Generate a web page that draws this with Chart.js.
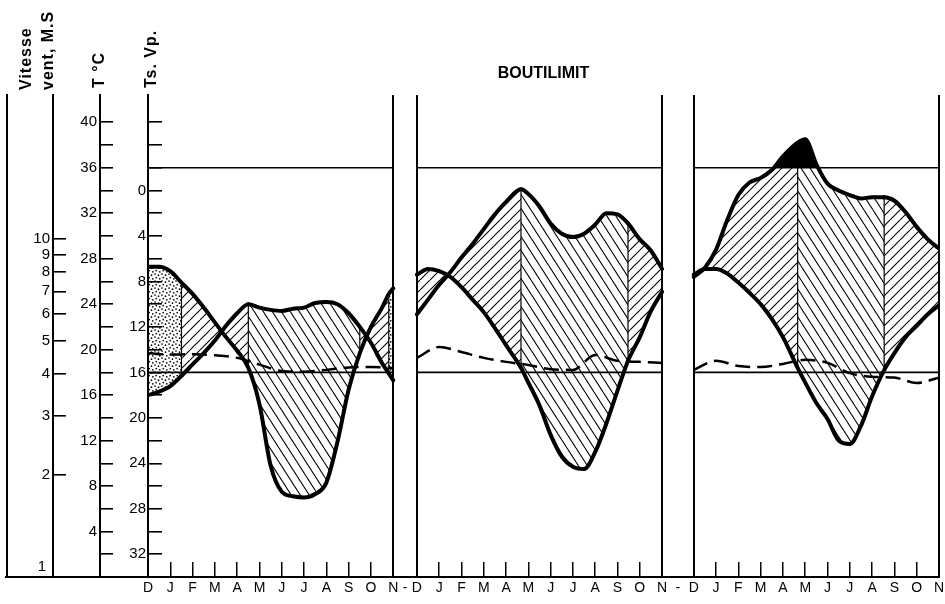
<!DOCTYPE html>
<html>
<head>
<meta charset="utf-8">
<script src="https://cdn.jsdelivr.net/npm/chart.js@4.4.0/dist/chart.umd.min.js"></script>
<style>
html,body{margin:0;padding:0;background:#fff;}
#wrap{width:945px;height:604px;}
</style>
</head>
<body>
<div id="wrap"><canvas id="c" width="945" height="604"></canvas></div>
<script>
// ---------------- DATA ----------------
const stationName = 'BOUTILIMIT';
const monthLabels = ['D','J','F','M','A','M','J','J','A','S','O','N'];
const gapLabel = '-';
const windMonths = [0,1,2,3,4,5,6,7,8,9,10,11];

// Panel 1
const p1Months = [0,0.5,1,1.5,2,2.5,3,3.5,4,4.5,5,5.5,6,6.5,7,7.5,8,8.5,9,9.5,10,10.5,10.8,11];
const p1Temp   = [16.0,16.3,16.8,17.7,18.7,19.7,20.8,22.1,23.2,24.0,23.7,23.5,23.4,23.6,23.7,24.1,24.2,24.0,23.2,22.0,20.6,18.8,17.9,17.3];
const p1Vp     = [6.7,6.7,7.1,8.1,9.1,10.3,11.6,12.9,14.1,15.6,18.8,24.2,26.5,26.9,27.0,26.7,25.7,22.1,17.5,14.3,12.0,10.3,9.1,8.6];
const p1Wind   = [4.60,4.55,4.56,4.53,4.45,4.25,4.07,4.05,4.10,4.17,4.18,4.15];

// Panel 2
const p2Months = [0,0.5,1,1.5,2,2.5,3,3.5,4,4.67,5,5.5,6,6.5,7,7.5,8,8.5,9,9.47,10,10.5,11];
const p2Temp   = [23.1,24.4,25.7,26.8,28.1,29.3,30.6,31.9,33.0,34.1,33.7,32.6,31.1,30.2,29.9,30.2,31.0,32.0,31.9,31.1,29.7,28.7,27.1];
const p2Vp     = [7.4,6.9,7.1,7.6,8.5,9.6,10.7,12.1,13.6,15.6,16.9,18.9,21.5,23.4,24.3,24.5,23.0,20.5,17.6,15.0,12.9,10.6,8.9];
const p2Wind   = [4.45,4.79,4.63,4.45,4.33,4.24,4.12,4.10,4.54,4.36,4.33,4.30];

// Panel 3
const p3Months = [0,0.5,1,1.5,2,2.5,3,3.5,4,4.66,5,5.5,6,6.5,7,7.5,8,8.54,9,9.5,10,10.5,11];
const p3Temp   = [26.4,27.2,28.8,31.4,33.6,34.7,35.1,35.8,37.0,38.2,38.5,36.3,34.6,34.0,33.6,33.3,33.4,33.4,33.1,32.1,30.8,29.7,28.9];
const p3Vp     = [7.4,6.9,6.9,7.3,8.1,9.0,10.0,11.3,12.9,15.6,16.9,18.7,20.1,22.0,22.3,20.7,18.1,15.8,14.3,12.9,11.9,10.9,10.1];
const p3Wind   = [4.10,4.36,4.21,4.18,4.27,4.39,4.30,4.01,3.91,3.89,3.75,3.89];

// reference levels
const refTemp = 36;
const refVp = 16;

// tick values / labels
const tTickValues  = [2,4,6,8,10,12,14,16,18,20,22,24,26,28,30,32,34,36,38,40];
const tLabelValues = [4,8,12,16,20,24,28,32,36,40];
const vpTickValues  = [-6,-4,-2,0,2,4,6,8,10,12,14,16,18,20,22,24,26,28,30,32];
const vpLabelValues = [0,4,8,12,16,20,24,28,32];
const windTickValues = [2,3,4,5,6,7,8,9,10];
const windBottomLabel = '1';

// ---------------- STYLE / LAYOUT CONFIG ----------------
const panelOffsets = [0, 12.06, 24.48];
const xMax = 35.48;
const tMax = 42.4;
const vpOffset = 34;          // Ts scale = 34 - T
const windMax = 26.67;
const FONT = 'Liberation Sans';

// fill zones per panel: [end month, pattern]
const p1Zones = [[1.5,'dots'],[4.5,'/'],[9.5,'\\'],[10.8,'/'],[11,'dots']];
const p2Zones = [[4.67,'/'],[9.47,'\\'],[11,'/']];
const p3Zones = [[4.66,'/'],[8.54,'\\'],[11,'/']];

function makeHatch(dir, w, h, lw) {
  const c = document.createElement('canvas'); c.width = w; c.height = h;
  const g = c.getContext('2d'); g.strokeStyle = '#000'; g.lineWidth = lw;
  g.beginPath();
  for (let k = -1; k <= 1; k++) {
    if (dir === '/') { g.moveTo(k*w, h); g.lineTo(k*w + w, 0); }
    else { g.moveTo(k*w, 0); g.lineTo(k*w + w, h); }
  }
  g.stroke();
  return g.createPattern(c, 'repeat');
}
function makeDots() {
  const c = document.createElement('canvas'); c.width = 7; c.height = 7;
  const g = c.getContext('2d'); g.fillStyle = '#000';
  [[1,1],[4.5,2.2],[2.2,4.6],[5.8,5.8]].forEach(([x,y]) => { g.beginPath(); g.arc(x, y, 0.85, 0, Math.PI*2); g.fill(); });
  return g.createPattern(c, 'repeat');
}
const patterns = { '/': makeHatch('/', 10, 10, 1.1), '\\': makeHatch('\\', 9, 14, 1.1), 'dots': makeDots() };

function zoneOf(zones, m) {
  for (const [end, key] of zones) if (m < end - 1e-6) return key;
  return zones[zones.length - 1][1];
}

const panels = [
  { months: p1Months, temp: p1Temp, vp: p1Vp, wind: p1Wind, zones: p1Zones, black: false },
  { months: p2Months, temp: p2Temp, vp: p2Vp, wind: p2Wind, zones: p2Zones, black: false },
  { months: p3Months, temp: p3Temp, vp: p3Vp, wind: p3Wind, zones: p3Zones, black: true }
];

const datasets = [];
const panelMeta = [];
panels.forEach((p, pi) => {
  const off = panelOffsets[pi];
  const tPts = p.months.map((m, i) => ({ x: off + m, y: p.temp[i] }));
  const vPts = p.months.map((m, i) => ({ x: off + m, y: p.vp[i] }));
  const wPts = windMonths.map((m, i) => ({ x: off + m, y: p.wind[i] }));
  const common = { pointRadius: 0, pointHoverRadius: 0, cubicInterpolationMode: 'monotone' };
  if (p.black) {
    datasets.push(Object.assign({}, common, {
      data: tPts, yAxisID: 'y', borderColor: 'rgba(0,0,0,0)', borderWidth: 1,
      backgroundColor: '#000',
      fill: { target: { value: refTemp }, above: '#000', below: 'rgba(0,0,0,0)' }
    }));
  }
  const tIdx = datasets.length;
  datasets.push(Object.assign({}, common, {
    data: tPts, yAxisID: 'y', borderColor: '#000', borderWidth: 4, borderJoinStyle: 'round', borderCapStyle: 'round',
    backgroundColor: 'rgba(0,0,0,0)',
    fill: { target: '+1' },
    segment: { backgroundColor: (ctx) => patterns[zoneOf(p.zones, p.months[ctx.p0DataIndex])] }
  }));
  datasets.push(Object.assign({}, common, {
    data: vPts, yAxisID: 'yTs', borderColor: '#000', borderWidth: 4, borderJoinStyle: 'round', borderCapStyle: 'round', fill: false
  }));
  datasets.push(Object.assign({}, common, {
    data: wPts, yAxisID: 'yW', borderColor: '#000', borderWidth: 2.5, borderDash: [15, 7], fill: false
  }));
  datasets.push({ data: [{ x: off, y: refTemp }, { x: off + 11, y: refTemp }], yAxisID: 'y', borderColor: '#000', borderWidth: 1.6, pointRadius: 0, fill: false, tension: 0 });
  datasets.push({ data: [{ x: off, y: refVp }, { x: off + 11, y: refVp }], yAxisID: 'yTs', borderColor: '#000', borderWidth: 1.6, pointRadius: 0, fill: false, tension: 0 });
  panelMeta.push({ tIdx: tIdx, months: p.months, zones: p.zones });
});

// x ticks
const xTickValues = [], xTickLabels = [], xTickKinds = [];
panelOffsets.forEach((off, pi) => {
  monthLabels.forEach((lab, k) => {
    xTickValues.push(off + k); xTickLabels.push(lab);
    xTickKinds.push((k === 0 || k === monthLabels.length - 1) ? 'edge' : 'month');
  });
  if (pi < panelOffsets.length - 1) {
    xTickValues.push((off + 11 + panelOffsets[pi + 1]) / 2);
    xTickLabels.push(gapLabel); xTickKinds.push('gap');
  }
});

const tickFont = { family: FONT, size: 15 };

const decoPlugin = {
  id: 'deco',
  afterDatasetsDraw(chart) {
    const ctx = chart.ctx;
    ctx.save();
    ctx.strokeStyle = '#000'; ctx.lineWidth = 1.2;
    panelMeta.forEach(pm => {
      const tm = chart.getDatasetMeta(pm.tIdx), vm = chart.getDatasetMeta(pm.tIdx + 1);
      pm.zones.slice(0, -1).forEach(([b]) => {
        const i = pm.months.findIndex(m => Math.abs(m - b) < 1e-6);
        if (i < 0) return;
        const a = tm.data[i], c = vm.data[i];
        ctx.beginPath(); ctx.moveTo(a.x, a.y); ctx.lineTo(c.x, c.y); ctx.stroke();
      });
    });
    ctx.restore();
  },
  afterDraw(chart) {
    const ctx = chart.ctx;
    const area = chart.chartArea;
    const sD = chart.scales.yL, sW = chart.scales.yW, sT = chart.scales.y, sV = chart.scales.yTs;
    ctx.save();
    // bottom line under the left axes
    ctx.strokeStyle = '#000'; ctx.lineWidth = 2;
    ctx.beginPath(); ctx.moveTo(sD.right - 2, area.bottom); ctx.lineTo(area.left, area.bottom); ctx.stroke();
    // wind label "1"
    ctx.fillStyle = '#000';
    ctx.font = '15px "' + FONT + '"';
    ctx.textAlign = 'right'; ctx.textBaseline = 'middle';
    ctx.fillText(windBottomLabel, sW.right - 7, sW.getPixelForValue(1) - 10);
    // rotated axis titles
    ctx.font = 'bold 16px "' + FONT + '"';
    if ('letterSpacing' in ctx) ctx.letterSpacing = '1px';
    const vtext = (text, cx, by) => {
      ctx.save(); ctx.translate(cx, by); ctx.rotate(-Math.PI / 2);
      ctx.textAlign = 'left'; ctx.textBaseline = 'middle'; ctx.fillText(text, 0, 0); ctx.restore();
    };
    vtext('Vitesse', sW.right - 26, area.top - 5);
    vtext('vent, M.S', sW.right - 4, area.top - 5);
    vtext('T °C', sT.right, area.top - 7);
    vtext('Ts. Vp.', sV.right + 4, area.top - 7);
    ctx.restore();
  }
};

const leftAxisBase = (weight, width, tl) => ({
  position: 'left', weight: weight,
  afterFit: (s) => { s.width = width; s.paddingTop = 0; s.paddingBottom = 0; },
  grid: { drawOnChartArea: false, color: '#000', lineWidth: 1.6, tickLength: tl, drawTicks: true },
  border: { display: true, color: '#000', width: 2 }
});

new Chart(document.getElementById('c'), {
  type: 'line',
  data: { datasets: datasets },
  plugins: [decoPlugin],
  options: {
    responsive: false,
    animation: false,
    devicePixelRatio: 1,
    events: [],
    layout: { padding: { left: 0, right: 6, top: 0, bottom: 0 } },
    plugins: {
      legend: { display: false },
      tooltip: { enabled: false },
      filler: { drawTime: 'beforeDatasetsDraw' },
      title: {
        display: true, text: stationName, color: '#000', fullSize: false,
        font: { family: FONT, size: 16, weight: 'bold' },
        padding: { top: 64, bottom: 11.8 }
      }
    },
    scales: {
      x: {
        type: 'linear', position: 'bottom', min: 0, max: xMax,
        afterBuildTicks: (s) => { s.ticks = xTickValues.map(v => ({ value: v })); },
        afterFit: (s) => { s.height = 27; s.paddingLeft = 0; s.paddingRight = 0; },
        ticks: {
          autoSkip: false, maxRotation: 0, minRotation: 0, padding: 18, color: '#000',
          font: { family: FONT, size: 14 },
          callback: (v, i) => xTickLabels[i]
        },
        grid: {
          drawOnChartArea: true, drawTicks: true, tickLength: -15,
          color: (ctx) => xTickKinds[ctx.index] === 'edge' ? '#000' : 'rgba(0,0,0,0)',
          lineWidth: (ctx) => xTickKinds[ctx.index] === 'edge' ? 2 : 1.5,
          tickColor: (ctx) => xTickKinds[ctx.index] === 'gap' ? 'rgba(0,0,0,0)' : '#000',
          tickWidth: 1.5
        },
        border: { display: true, color: '#000', width: 2 }
      },
      yL: Object.assign(leftAxisBase(4, 7, 0), {
        type: 'linear', min: 0, max: 1,
        ticks: { display: false },
        grid: { display: false }
      }),
      yW: Object.assign(leftAxisBase(3, 46, -13), {
        type: 'logarithmic', min: 1, max: windMax,
        afterBuildTicks: (s) => { s.ticks = windTickValues.map(v => ({ value: v })); },
        ticks: { padding: 16, color: '#000', font: tickFont, autoSkip: false, callback: (v) => String(v) }
      }),
      y: Object.assign(leftAxisBase(2, 47, -13), {
        type: 'linear', min: 0, max: tMax,
        afterBuildTicks: (s) => { s.ticks = tTickValues.map(v => ({ value: v })); },
        ticks: { padding: 16, color: '#000', font: tickFont, autoSkip: false, callback: (v) => tLabelValues.includes(v) ? String(v) : '' }
      }),
      yTs: Object.assign(leftAxisBase(1, 48, -14), {
        type: 'linear', reverse: true, min: vpOffset - tMax, max: vpOffset,
        afterBuildTicks: (s) => { s.ticks = vpTickValues.map(v => ({ value: v })); },
        ticks: { padding: 16, color: '#000', font: tickFont, autoSkip: false, callback: (v) => vpLabelValues.includes(v) ? String(v) : '' }
      })
    }
  }
});
</script>
</body>
</html>
